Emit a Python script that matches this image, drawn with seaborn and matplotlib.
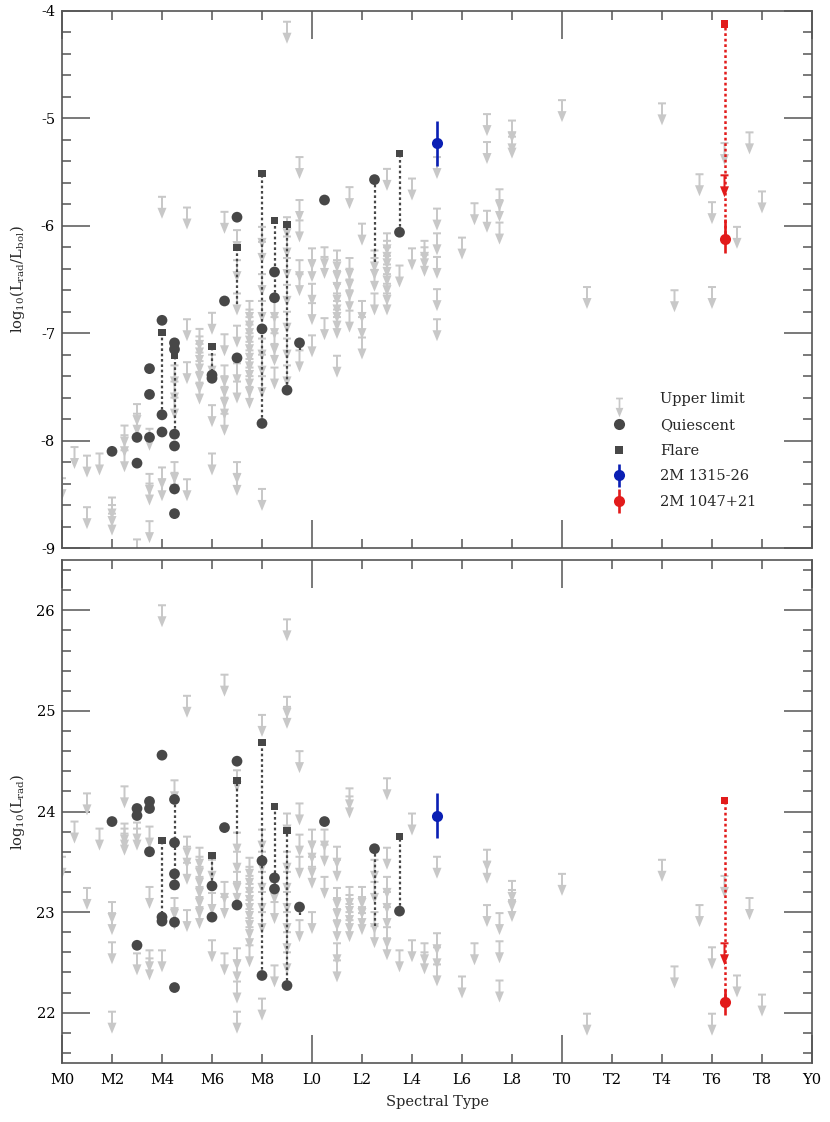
import numpy as np
import pandas as pd
import matplotlib
matplotlib.use("Agg")
import matplotlib.pyplot as plt
import seaborn as sns
from matplotlib.path import Path
from matplotlib.lines import Line2D
from matplotlib.ticker import MultipleLocator
from matplotlib.legend_handler import HandlerErrorbar
from matplotlib.container import ErrorbarContainer

# ---------------- data ----------------
# spectral type code: M0=0, L0=10, T0=20, Y0=30
xtick_major = [0, 10, 20, 30]
xtick_major_labels = ["M0", "L0", "T0", "Y0"]
xtick_minor = [2, 4, 6, 8, 12, 14, 16, 18, 22, 24, 26, 28]
xtick_minor_labels = ["M2", "M4", "M6", "M8", "L2", "L4", "L6", "L8",
                      "T2", "T4", "T6", "T8"]

# --- top panel: log10(Lrad/Lbol) ---
ul_top_spt = [0, 0.5, 1, 1.5, 2, 2.5, 3, 3.5, 4, 4.5, 5, 5.5, 6, 6.5, 7, 7.5,
              8, 8.5, 9, 9.5, 10, 10.5, 11, 11.5, 12, 12.5, 13, 13.5, 14, 14.5,
              15, 16, 16.5, 17, 17.5, 18, 20, 21, 24, 24.5, 25.5, 26, 26.5, 27,
              27.5, 28]
ul_top_vals = [
    [-8.35], [-8.06], [-8.14, -8.62], [-8.12], [-8.53, -8.60, -8.68],
    [-7.86, -7.95, -8.09], [-7.66, -7.75, -8.92], [-7.89, -8.31, -8.40, -8.75],
    [-5.73, -8.25, -8.36], [-7.30, -7.45, -7.60, -8.20, -8.30],
    [-5.83, -6.87, -7.27, -8.36],
    [-6.96, -7.03, -7.10, -7.18, -7.26, -7.36, -7.46],
    [-6.81, -7.20, -7.67, -8.12],
    [-5.87, -7.01, -7.30, -7.40, -7.50, -7.60, -7.75],
    [-6.04, -6.32, -6.63, -6.93, -7.28, -7.45, -8.20, -8.31],
    [-6.70, -6.78, -6.85, -6.92, -7.00, -7.08, -7.16, -7.24, -7.32, -7.40, -7.50],
    [-6.01, -6.15, -6.45, -6.70, -7.05, -7.20, -7.40, -8.45],
    [-6.70, -6.85, -7.00, -7.10, -7.32],
    [-4.10, -5.92, -6.10, -6.30, -6.55, -6.80, -7.05, -7.30],
    [-5.36, -5.76, -5.95, -6.32, -6.45, -7.16],
    [-6.21, -6.32, -6.54, -6.72, -7.02],
    [-6.20, -6.29, -6.86],
    [-6.23, -6.32, -6.42, -6.54, -6.63, -6.70, -6.78, -6.85, -7.21],
    [-5.64, -6.30, -6.40, -6.50, -6.60, -6.79],
    [-5.98, -6.70, -6.85, -7.04],
    [-6.23, -6.30, -6.41, -6.63],
    [-5.47, -6.07, -6.14, -6.20, -6.28, -6.36, -6.45, -6.54, -6.63],
    [-6.37], [-5.56, -6.21], [-6.14, -6.20, -6.27],
    [-5.36, -5.84, -6.07, -6.29, -6.59, -6.87],
    [-6.11], [-5.79], [-4.96, -5.22, -5.86], [-5.66, -5.76, -5.97],
    [-5.02, -5.13, -5.17], [-4.83], [-6.57], [-4.86], [-6.60], [-5.52],
    [-5.78, -6.57], [-5.23], [-6.01], [-5.13], [-5.68]]

q_top_spt = [2, 3, 3, 3.5, 3.5, 3.5, 4, 4, 4, 4.5, 4.5, 4.5, 4.5, 4.5, 4.5,
             6, 6, 6.5, 7, 7, 8, 8, 8.5, 8.5, 9, 9.5, 10.5, 12.5, 13.5]
q_top_val = [-8.10, -7.97, -8.21, -7.33, -7.57, -7.97, -6.88, -7.76, -7.92,
             -7.09, -7.15, -7.94, -8.05, -8.45, -8.68, -7.39, -7.42, -6.70,
             -5.92, -7.23, -6.96, -7.84, -6.43, -6.67, -7.53, -7.09, -5.76,
             -5.57, -6.06]
f_top_spt = [4, 4.5, 6, 7, 8, 8.5, 9, 13.5]
f_top_val = [-6.99, -7.21, -7.12, -6.20, -5.51, -5.95, -5.99, -5.33]
link_top_spt = [4, 4.5, 6, 7, 8, 8.5, 9, 9.5, 12.5, 13.5]
link_top_hi = [-6.99, -7.21, -7.12, -6.20, -5.51, -5.95, -5.99, -7.09, -5.57, -5.33]
link_top_lo = [-7.76, -7.94, -7.41, -6.73, -7.84, -6.67, -7.53, -7.16, -6.34, -6.06]

# --- bottom panel: log10(Lrad) ---
ul_bot_spt = ul_top_spt
ul_bot_vals = [
    [23.55], [23.90], [24.18, 23.24], [23.83], [23.10, 22.99, 22.70, 22.01],
    [24.25, 23.88, 23.83, 23.78], [23.89, 23.83, 22.59],
    [23.85, 23.25, 22.62, 22.54], [26.05, 22.62], [24.31, 23.14, 23.04],
    [25.15, 23.75, 23.65, 23.49, 23.02],
    [23.64, 23.55, 23.45, 23.35, 23.25, 23.15, 23.05],
    [23.52, 23.19, 22.72], [25.36, 23.30, 23.15, 22.59],
    [24.41, 23.79, 23.60, 23.40, 23.30, 22.64, 22.52, 22.31, 22.01],
    [23.54, 23.45, 23.36, 23.28, 23.20, 23.12, 23.03, 22.94, 22.85, 22.67],
    [24.96, 23.82, 23.60, 23.40, 23.20, 23.00, 22.14],
    [23.30, 23.10, 22.47],
    [25.91, 25.14, 25.04, 23.98, 23.60, 23.40, 23.20, 23.00, 22.80, 22.60],
    [24.60, 24.08, 23.77, 23.55, 22.92],
    [23.82, 23.70, 23.55, 23.45, 23.00],
    [23.82, 23.67, 23.35],
    [23.65, 23.52, 23.24, 23.14, 23.03, 22.92, 22.69, 22.52],
    [24.23, 24.15, 23.25, 23.17, 23.08, 23.00, 22.92],
    [23.25, 23.15, 23.05, 22.99],
    [23.52, 23.30, 23.00, 22.86],
    [24.33, 23.64, 23.35, 23.20, 23.05, 22.85, 22.74],
    [22.62], [23.98, 22.72], [22.69, 22.60], [23.55, 22.79, 22.65, 22.48],
    [22.36], [22.69], [23.62, 23.50, 23.07], [22.99, 22.71, 22.32],
    [23.31, 23.22, 23.12], [23.38], [21.99], [23.52], [22.46], [23.07],
    [22.65, 21.99], [23.36], [22.37], [23.14], [22.18]]

q_bot_spt = [2, 3, 3, 3, 3.5, 3.5, 3.5, 4, 4, 4, 4.5, 4.5, 4.5, 4.5, 4.5, 4.5,
             6, 6, 6.5, 7, 7, 8, 8, 8.5, 8.5, 9, 9.5, 10.5, 12.5, 13.5]
q_bot_val = [23.90, 24.03, 23.96, 22.67, 24.10, 24.03, 23.60, 24.56, 22.95,
             22.91, 24.12, 23.69, 23.38, 23.27, 22.90, 22.25, 23.26, 22.95,
             23.84, 24.50, 23.07, 23.51, 22.37, 23.34, 23.23, 22.27, 23.05,
             23.90, 23.63, 23.01]
f_bot_spt = [4, 6, 7, 8, 8.5, 9, 13.5]
f_bot_val = [23.71, 23.56, 24.31, 24.69, 24.05, 23.81, 23.75]
link_bot_spt = [4, 4.5, 6, 7, 8, 8.5, 9, 9.5, 12.5, 13.5]
link_bot_hi = [23.71, 24.12, 23.56, 24.31, 24.69, 24.05, 23.81, 23.05, 23.63, 23.75]
link_bot_lo = [22.93, 23.30, 23.26, 23.78, 22.37, 23.23, 22.27, 22.97, 22.86, 23.01]

# --- highlighted objects ---
blue_spt = 15.0          # 2M 1315-26 (L5)
blue_top = -5.23
blue_top_err = 0.21
blue_bot = 23.96
blue_bot_err = 0.22

red_spt = 26.5           # 2M 1047+21 (T6.5)
red_top_flare = -4.12
red_top_ul = -5.53
red_top_q = -6.12
red_top_err = [[0.13], [0.18]]
red_bot_flare = 24.11
red_bot_ul = 22.69
red_bot_q = 22.11
red_bot_err = 0.13

# ---------------- style ----------------
sns.set_style("ticks")
plt.rcParams['font.family'] = ['DejaVu Serif']
plt.rcParams['mathtext.fontset'] = 'dejavuserif'
plt.rcParams['axes.unicode_minus'] = False

GRAY = '#c8c8c8'
DARK = '#474747'
BLUE = '#0a1fb4'
RED = '#e21b1b'
AXC = '#555555'
FS = 10.5

# upper-limit marker: bar at the value, arrow pointing down
verts = [(-4, 1), (4, 1), (4, -1), (-4, -1), (-4, 1),
         (-1, -1), (1, -1), (1, -11), (-1, -11), (-1, -1),
         (-4.5, -11), (4.5, -11), (0, -22), (-4.5, -11)]
codes = ([Path.MOVETO] + [Path.LINETO] * 3 + [Path.CLOSEPOLY]) * 2 + \
        [Path.MOVETO, Path.LINETO, Path.LINETO, Path.CLOSEPOLY]
UL_MARKER = Path(verts, codes)
UL_S = 1004


def expand(spts, vals):
    rows = [(s, v) for s, vs in zip(spts, vals) for v in vs]
    return pd.DataFrame(rows, columns=['spt', 'val'])


fig = plt.figure(figsize=(8.3, 11.22), dpi=100)
ax1 = fig.add_axes([62 / 830, 1 - 548 / 1122, 750 / 830, 537 / 1122])
ax2 = fig.add_axes([62 / 830, 1 - 1063 / 1122, 750 / 830, 503 / 1122])


def draw_panel(ax, ul_spt, ul_vals, q_spt, q_val, f_spt, f_val,
               l_spt, l_hi, l_lo, b_val, b_err, r_fl, r_ul, r_q, r_err):
    ul = expand(ul_spt, ul_vals)
    sns.scatterplot(data=ul, x='spt', y='val', ax=ax, marker=UL_MARKER,
                    s=UL_S, color=GRAY, edgecolor='none', linewidth=0,
                    zorder=1, legend=False)
    ax.vlines(l_spt, l_lo, l_hi, colors=DARK, linestyles=(0, (1.2, 1.2)),
              linewidth=1.6, zorder=2)
    sns.scatterplot(x=f_spt, y=f_val, ax=ax, marker='s', s=26, color=DARK,
                    edgecolor='none', linewidth=0, zorder=3, legend=False)
    sns.scatterplot(x=q_spt, y=q_val, ax=ax, marker='o', s=60, color=DARK,
                    edgecolor='none', linewidth=0, zorder=4, legend=False)
    # 2M 1315-26
    eb_b = ax.errorbar([blue_spt], [b_val], yerr=b_err, fmt='o', color=BLUE,
                       ms=8, mew=0, elinewidth=1.9, capsize=0, zorder=6,
                       label='2M 1315-26')
    # 2M 1047+21
    ax.vlines([red_spt], [r_q], [r_fl], colors=RED, linestyles=(0, (1.1, 1.1)),
              linewidth=1.8, zorder=5)
    sns.scatterplot(x=[red_spt], y=[r_ul], ax=ax, marker=UL_MARKER, s=UL_S,
                    color=RED, edgecolor='none', linewidth=0, zorder=5,
                    legend=False)
    sns.scatterplot(x=[red_spt], y=[r_fl], ax=ax, marker='s', s=32, color=RED,
                    edgecolor='none', linewidth=0, zorder=6, legend=False)
    eb_r = ax.errorbar([red_spt], [r_q], yerr=r_err, fmt='o', color=RED,
                       ms=8, mew=0, elinewidth=1.9, capsize=0, zorder=6,
                       label='2M 1047+21')
    return eb_b, eb_r


eb_b, eb_r = draw_panel(ax1, ul_top_spt, ul_top_vals, q_top_spt, q_top_val,
                        f_top_spt, f_top_val, link_top_spt, link_top_hi,
                        link_top_lo, blue_top, blue_top_err, red_top_flare,
                        red_top_ul, red_top_q, red_top_err)
draw_panel(ax2, ul_bot_spt, ul_bot_vals, q_bot_spt, q_bot_val,
           f_bot_spt, f_bot_val, link_bot_spt, link_bot_hi, link_bot_lo,
           blue_bot, blue_bot_err, red_bot_flare, red_bot_ul, red_bot_q,
           red_bot_err)

ax1.set_ylim(-9, -4)
ax2.set_ylim(21.5, 26.5)
for ax in (ax1, ax2):
    ax.set_xlim(0, 30)
    ax.set_xticks(xtick_major, labels=xtick_major_labels)
    ax.set_xticks(xtick_minor, labels=xtick_minor_labels, minor=True)
    ax.yaxis.set_major_locator(MultipleLocator(1))
    ax.yaxis.set_minor_locator(MultipleLocator(0.2))
    ax.tick_params(which='both', direction='in', top=True, right=True,
                   color=AXC, width=1.1, labelsize=FS, labelcolor='black')
    ax.tick_params(which='major', length=20)
    ax.tick_params(which='minor', length=6.5)
    ax.tick_params(axis='x', which='both', pad=7)
    ax.tick_params(axis='y', which='both', pad=5)
    for sp in ax.spines.values():
        sp.set_color(AXC)
        sp.set_linewidth(1.2)
    ax.set_xlabel('')
    ax.set_ylabel('')

ax1.tick_params(axis='x', which='both', labelbottom=False)
ax1.set_yticks([-9, -8, -7, -6, -5, -4])
ax2.set_yticks([22, 23, 24, 25, 26])

ax1.set_ylabel(r'log$_{10}$(L$_{\rm rad}$/L$_{\rm bol}$)', fontsize=FS)
ax2.set_ylabel(r'log$_{10}$(L$_{\rm rad}$)', fontsize=FS)
ax1.yaxis.set_label_coords(-0.047, 0.5)
ax2.yaxis.set_label_coords(-0.047, 0.5)
ax2.set_xlabel('Spectral Type', fontsize=FS, labelpad=6)

# legend
h_ul = Line2D([], [], marker=UL_MARKER, color=GRAY, ls='none', ms=27, mew=0)
h_q = Line2D([], [], marker='o', color=DARK, ls='none', ms=8, mew=0)
h_f = Line2D([], [], marker='s', color=DARK, ls='none', ms=5.2, mew=0)
ax1.legend([h_ul, h_q, h_f, eb_b, eb_r],
           ['Upper limit', 'Quiescent', 'Flare', '2M 1315-26', '2M 1047+21'],
           loc='center left', bbox_to_anchor=(0.706, 0.181), frameon=False,
           fontsize=FS, handletextpad=1.8, labelspacing=0.8,
           handlelength=2.0,
           handler_map={ErrorbarContainer: HandlerErrorbar(yerr_size=0.8)})

fig.savefig('out.png', dpi=100)
